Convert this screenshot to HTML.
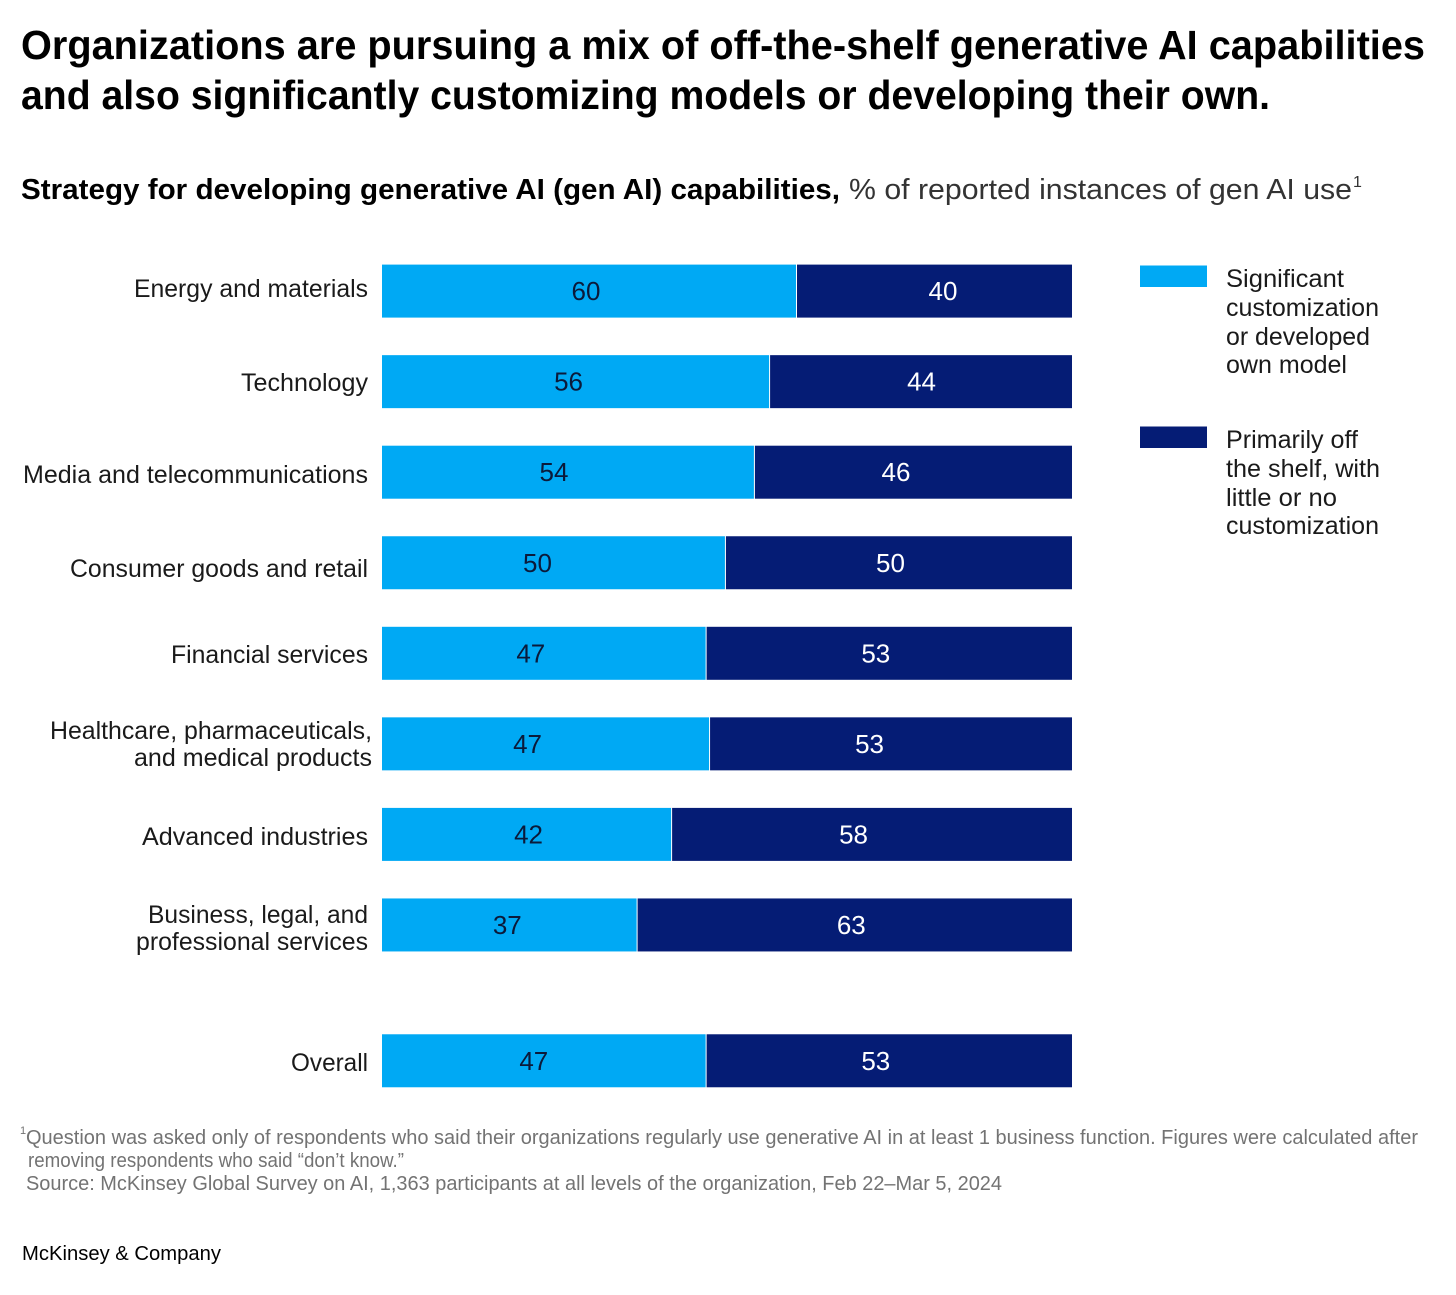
<!DOCTYPE html>
<html lang="en">
<head>
<meta charset="utf-8">
<title>Strategy for developing generative AI capabilities</title>
<style>
html,body{margin:0;padding:0;background:#fff;}
body{width:1456px;height:1295px;overflow:hidden;}
svg{display:block;font-family:"Liberation Sans",sans-serif;}
.t{font-weight:700;font-size:41px;fill:#000;}
.s{font-size:29px;fill:#000;}
.c{font-size:25px;fill:#1a1a1a;}
.l{font-size:25px;fill:#1a1a1a;}
.f{font-size:20px;fill:#737373;}
.v{font-size:26px;text-anchor:middle;}
</style>
</head>
<body>
<svg id="chart" xmlns="http://www.w3.org/2000/svg" width="1456" height="1295" viewBox="0 0 1456 1295">
  <rect x="0" y="0" width="1456" height="1295" fill="#fff"/>

  <g>
    <text class="t" x="21" y="59" textLength="1404" lengthAdjust="spacingAndGlyphs">Organizations are pursuing a mix of off-the-shelf generative AI capabilities</text>
    <text class="t" x="21" y="109" textLength="1249" lengthAdjust="spacingAndGlyphs">and also significantly customizing models or developing their own.</text>
  </g>

  <g>
    <text class="s" x="21" y="199" font-weight="700" textLength="819" lengthAdjust="spacingAndGlyphs">Strategy for developing generative AI (gen AI) capabilities,</text>
    <text class="s" x="849" y="199" fill="#333" style="fill:#333" textLength="503" lengthAdjust="spacingAndGlyphs">% of reported instances of gen AI use</text>
    <text x="1353" y="187" font-size="16" fill="#333">1</text>
  </g>

  <g id="bars"></g>

  <g>
    <text class="c" x="134" y="297" textLength="234" lengthAdjust="spacingAndGlyphs">Energy and materials</text>
    <text class="c" x="241" y="391" textLength="127" lengthAdjust="spacingAndGlyphs">Technology</text>
    <text class="c" x="23" y="483" textLength="345" lengthAdjust="spacingAndGlyphs">Media and telecommunications</text>
    <text class="c" x="70" y="577" textLength="298" lengthAdjust="spacingAndGlyphs">Consumer goods and retail</text>
    <text class="c" x="171" y="663" textLength="197" lengthAdjust="spacingAndGlyphs">Financial services</text>
    <text class="c" x="50" y="739" textLength="322" lengthAdjust="spacingAndGlyphs">Healthcare, pharmaceuticals,</text>
    <text class="c" x="134" y="766" textLength="238" lengthAdjust="spacingAndGlyphs">and medical products</text>
    <text class="c" x="142" y="845" textLength="226" lengthAdjust="spacingAndGlyphs">Advanced industries</text>
    <text class="c" x="148" y="923" textLength="220" lengthAdjust="spacingAndGlyphs">Business, legal, and</text>
    <text class="c" x="136" y="950" textLength="232" lengthAdjust="spacingAndGlyphs">professional services</text>
    <text class="c" x="291" y="1071" textLength="77" lengthAdjust="spacingAndGlyphs">Overall</text>
  </g>

  <g>
    <g>
      <rect x="1140" y="265.5" width="67" height="21.5" fill="#00A9F4"/>
      <text class="l" x="1226" y="287" textLength="118" lengthAdjust="spacingAndGlyphs">Significant</text>
      <text class="l" x="1226" y="316" textLength="153" lengthAdjust="spacingAndGlyphs">customization</text>
      <text class="l" x="1226" y="345" textLength="144" lengthAdjust="spacingAndGlyphs">or developed</text>
      <text class="l" x="1226" y="373" textLength="121" lengthAdjust="spacingAndGlyphs">own model</text>
    </g>
    <g>
      <rect x="1140" y="426.5" width="67" height="21.5" fill="#051C75"/>
      <text class="l" x="1226" y="448" textLength="132" lengthAdjust="spacingAndGlyphs">Primarily off</text>
      <text class="l" x="1226" y="477" textLength="154" lengthAdjust="spacingAndGlyphs">the shelf, with</text>
      <text class="l" x="1226" y="506" textLength="111" lengthAdjust="spacingAndGlyphs">little or no</text>
      <text class="l" x="1226" y="534" textLength="153" lengthAdjust="spacingAndGlyphs">customization</text>
    </g>
  </g>

  <g>
    <text x="20" y="1134" font-size="11" fill="#737373">1</text>
    <text class="f" x="26" y="1144" textLength="1392" lengthAdjust="spacingAndGlyphs">Question was asked only of respondents who said their organizations regularly use generative AI in at least 1 business function. Figures were calculated after</text>
    <text class="f" x="28" y="1167" textLength="376" lengthAdjust="spacingAndGlyphs">removing respondents who said “don’t know.”</text>
    <text class="f" x="26" y="1190" textLength="976" lengthAdjust="spacingAndGlyphs">Source: McKinsey Global Survey on AI, 1,363 participants at all levels of the organization, Feb 22–Mar 5, 2024</text>
  </g>

  <text x="22" y="1260" font-size="20" fill="#000" textLength="199" lengthAdjust="spacingAndGlyphs">McKinsey &amp; Company</text>
</svg>

<script>
// Chart data, % of reported instances of gen AI use
const categories = ["Energy and materials", "Technology", "Media and telecommunications", "Consumer goods and retail", "Financial services", "Healthcare, pharmaceuticals, and medical products", "Advanced industries", "Business, legal, and professional services", "Overall"];
const customizedValues = [60, 56.1, 53.9, 49.7, 46.9, 47.4, 41.9, 36.9, 46.9];
const offTheShelfValues = [40, 43.9, 46.1, 50.3, 53.1, 52.6, 58.1, 63.1, 53.1];

// Hand-set label corrections: the source does not centre its numbers in each segment
const customizedLabelNudge = [-3, -7, -14, -16, -13, -18, 2, -2, -10];
const offTheShelfLabelNudge = [9, 1, -17, -8, -13, -21, -18, -3, -13];

const SVG_NS = "http://www.w3.org/2000/svg";
const barsGroup = document.getElementById("bars");

// Axis functions
function xScale(value) { return 382 + value * 6.9; }
function bandTop(index) {
  const isOverall = index === categories.length - 1;
  return 264.6 + (isOverall ? index + 0.5 : index) * 90.55;
}
const BAND_HEIGHT = 53;

function drawSegment(index, start, value, color, textColor, nudge, series) {
  const x0 = xScale(start);
  const x1 = xScale(start + value);
  const y = bandTop(index);
  const seg = document.createElementNS(SVG_NS, "rect");
  
  
  seg.setAttribute("x", start > 0 ? x0 + 1 : x0);
  seg.setAttribute("y", y);
  seg.setAttribute("width", start > 0 ? x1 - x0 - 1 : x1 - x0);
  seg.setAttribute("height", BAND_HEIGHT);
  seg.setAttribute("fill", color);
  const tip = document.createElementNS(SVG_NS, "title");
  tip.textContent = categories[index];
  seg.appendChild(tip);
  barsGroup.appendChild(seg);

  const label = document.createElementNS(SVG_NS, "text");
  
  
  label.setAttribute("class", "v");
  label.setAttribute("x", (x0 + x1) / 2 + nudge);
  label.setAttribute("y", y + 35.5);
  label.setAttribute("fill", textColor);
  label.textContent = String(Math.round(value));
  barsGroup.appendChild(label);
}

categories.forEach(function (name, i) {
  drawSegment(i, 0, customizedValues[i], "#00A9F4", "#0b1a3a", customizedLabelNudge[i], "customized");
  drawSegment(i, customizedValues[i], offTheShelfValues[i], "#051C75", "#ffffff", offTheShelfLabelNudge[i], "off-the-shelf");
});
</script>
</body>
</html>
